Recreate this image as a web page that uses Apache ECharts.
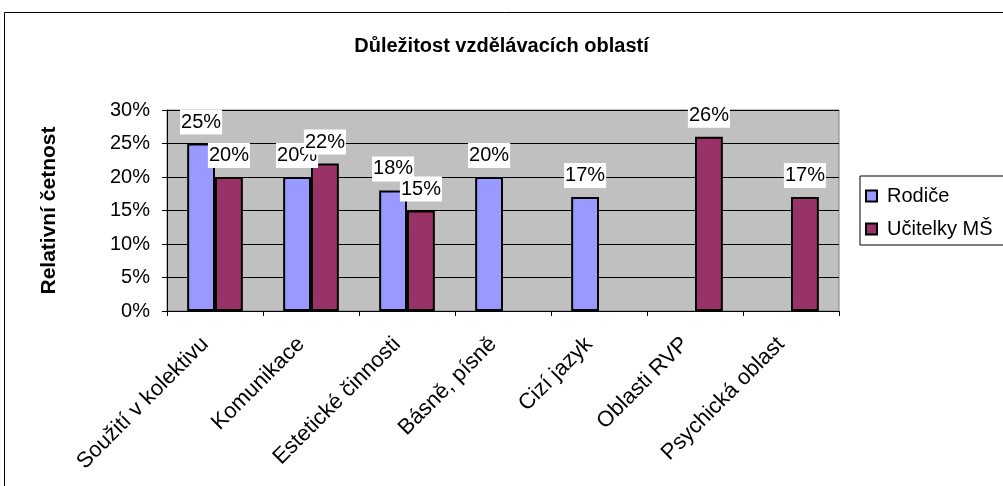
<!DOCTYPE html>
<html>
<head>
<meta charset="utf-8">
<script src="https://cdn.jsdelivr.net/npm/echarts@6/dist/echarts.min.js"></script>
<style>
  html, body { margin: 0; padding: 0; background: #fff; }
  #chart { width: 1003px; height: 486px; }
</style>
</head>
<body>
<div id="chart"></div>
<script>
var categories = ['Soužití v kolektivu', 'Komunikace', 'Estetické činnosti', 'Básně, písně', 'Cizí jazyk', 'Oblasti RVP', 'Psychická oblast'];
var rodice = [25, 20, 18, 20, 17, null, null];
var ucitelky = [20, 22, 15, null, null, 26, 17];
var yTicks = [0, 5, 10, 15, 20, 25, 30];

var font = 'Arial, "Liberation Sans", sans-serif';

var labelStyle = {
    show: true,
    position: 'top',
    distance: 9,
    formatter: '{c}%',
    color: '#000',
    fontFamily: font,
    fontSize: 20,
    lineHeight: 21,
    backgroundColor: '#fff',
    padding: [2, 1, 2, 1]
};

var chart = echarts.init(document.getElementById('chart'));

var option = {
    animation: false,
    backgroundColor: '#fff',
    graphic: [{
        type: 'rect',
        shape: { x: 4.5, y: 12.5, width: 1010, height: 500 },
        style: { fill: 'none', stroke: '#000', lineWidth: 1 },
        silent: true
    }],
    title: {
        text: 'Důležitost vzdělávacích oblastí',
        left: 'center',
        top: 31,
        textStyle: { fontFamily: font, fontSize: 20, fontWeight: 'bold', color: '#000' }
    },
    legend: {
        orient: 'vertical',
        left: 860,
        top: 176,
        backgroundColor: '#fff',
        borderColor: '#000',
        borderWidth: 1,
        padding: [10, 20, 6, 5],
        itemWidth: 11,
        itemHeight: 11,
        itemGap: 13,
        icon: 'rect',
        textStyle: { fontFamily: font, fontSize: 20, color: '#000', padding: [0, 0, 0, 5] },
        data: ['Rodiče', 'Učitelky MŠ']
    },
    grid: {
        left: 167,
        right: 164,
        top: 110,
        bottom: 175,
        show: true,
        backgroundColor: '#C0C0C0',
        borderColor: '#808080',
        borderWidth: 1
    },
    xAxis: {
        type: 'category',
        data: categories,
        axisLine: { lineStyle: { color: '#000', width: 1 } },
        axisTick: { show: true, length: 5, lineStyle: { color: '#000' } },
        axisLabel: {
            rotate: 45,
            margin: 20,
            interval: 0,
            color: '#000',
            fontFamily: font,
            fontSize: 22,
            padding: [0, 14, 0, 0]
        }
    },
    yAxis: {
        type: 'value',
        min: 0,
        max: 30,
        interval: 5,
        name: 'Relativní četnost',
        nameLocation: 'middle',
        nameRotate: 90,
        nameGap: 107,
        nameTextStyle: { fontFamily: font, fontSize: 21, fontWeight: 'bold', color: '#000' },
        axisLine: { show: true, lineStyle: { color: '#000', width: 1 } },
        axisTick: { show: true, length: 5, inside: false, lineStyle: { color: '#000' } },
        splitLine: { show: true, lineStyle: { color: '#000', width: 1 } },
        axisLabel: {
            margin: 17,
            color: '#000',
            fontFamily: font,
            fontSize: 20,
            formatter: function (v) { return yTicks.indexOf(v) >= 0 ? v + '%' : ''; }
        }
    },
    series: [
        {
            name: 'Rodiče',
            type: 'bar',
            data: rodice,
            barGap: '0%',
            barCategoryGap: '42%',
            itemStyle: { color: '#9999FF', borderColor: '#000', borderWidth: 2 },
            label: labelStyle
        },
        {
            name: 'Učitelky MŠ',
            type: 'bar',
            data: ucitelky,
            barGap: '0%',
            barCategoryGap: '42%',
            itemStyle: { color: '#993366', borderColor: '#000', borderWidth: 2 },
            label: labelStyle
        }
    ]
};

chart.setOption(option);
</script>
</body>
</html>
